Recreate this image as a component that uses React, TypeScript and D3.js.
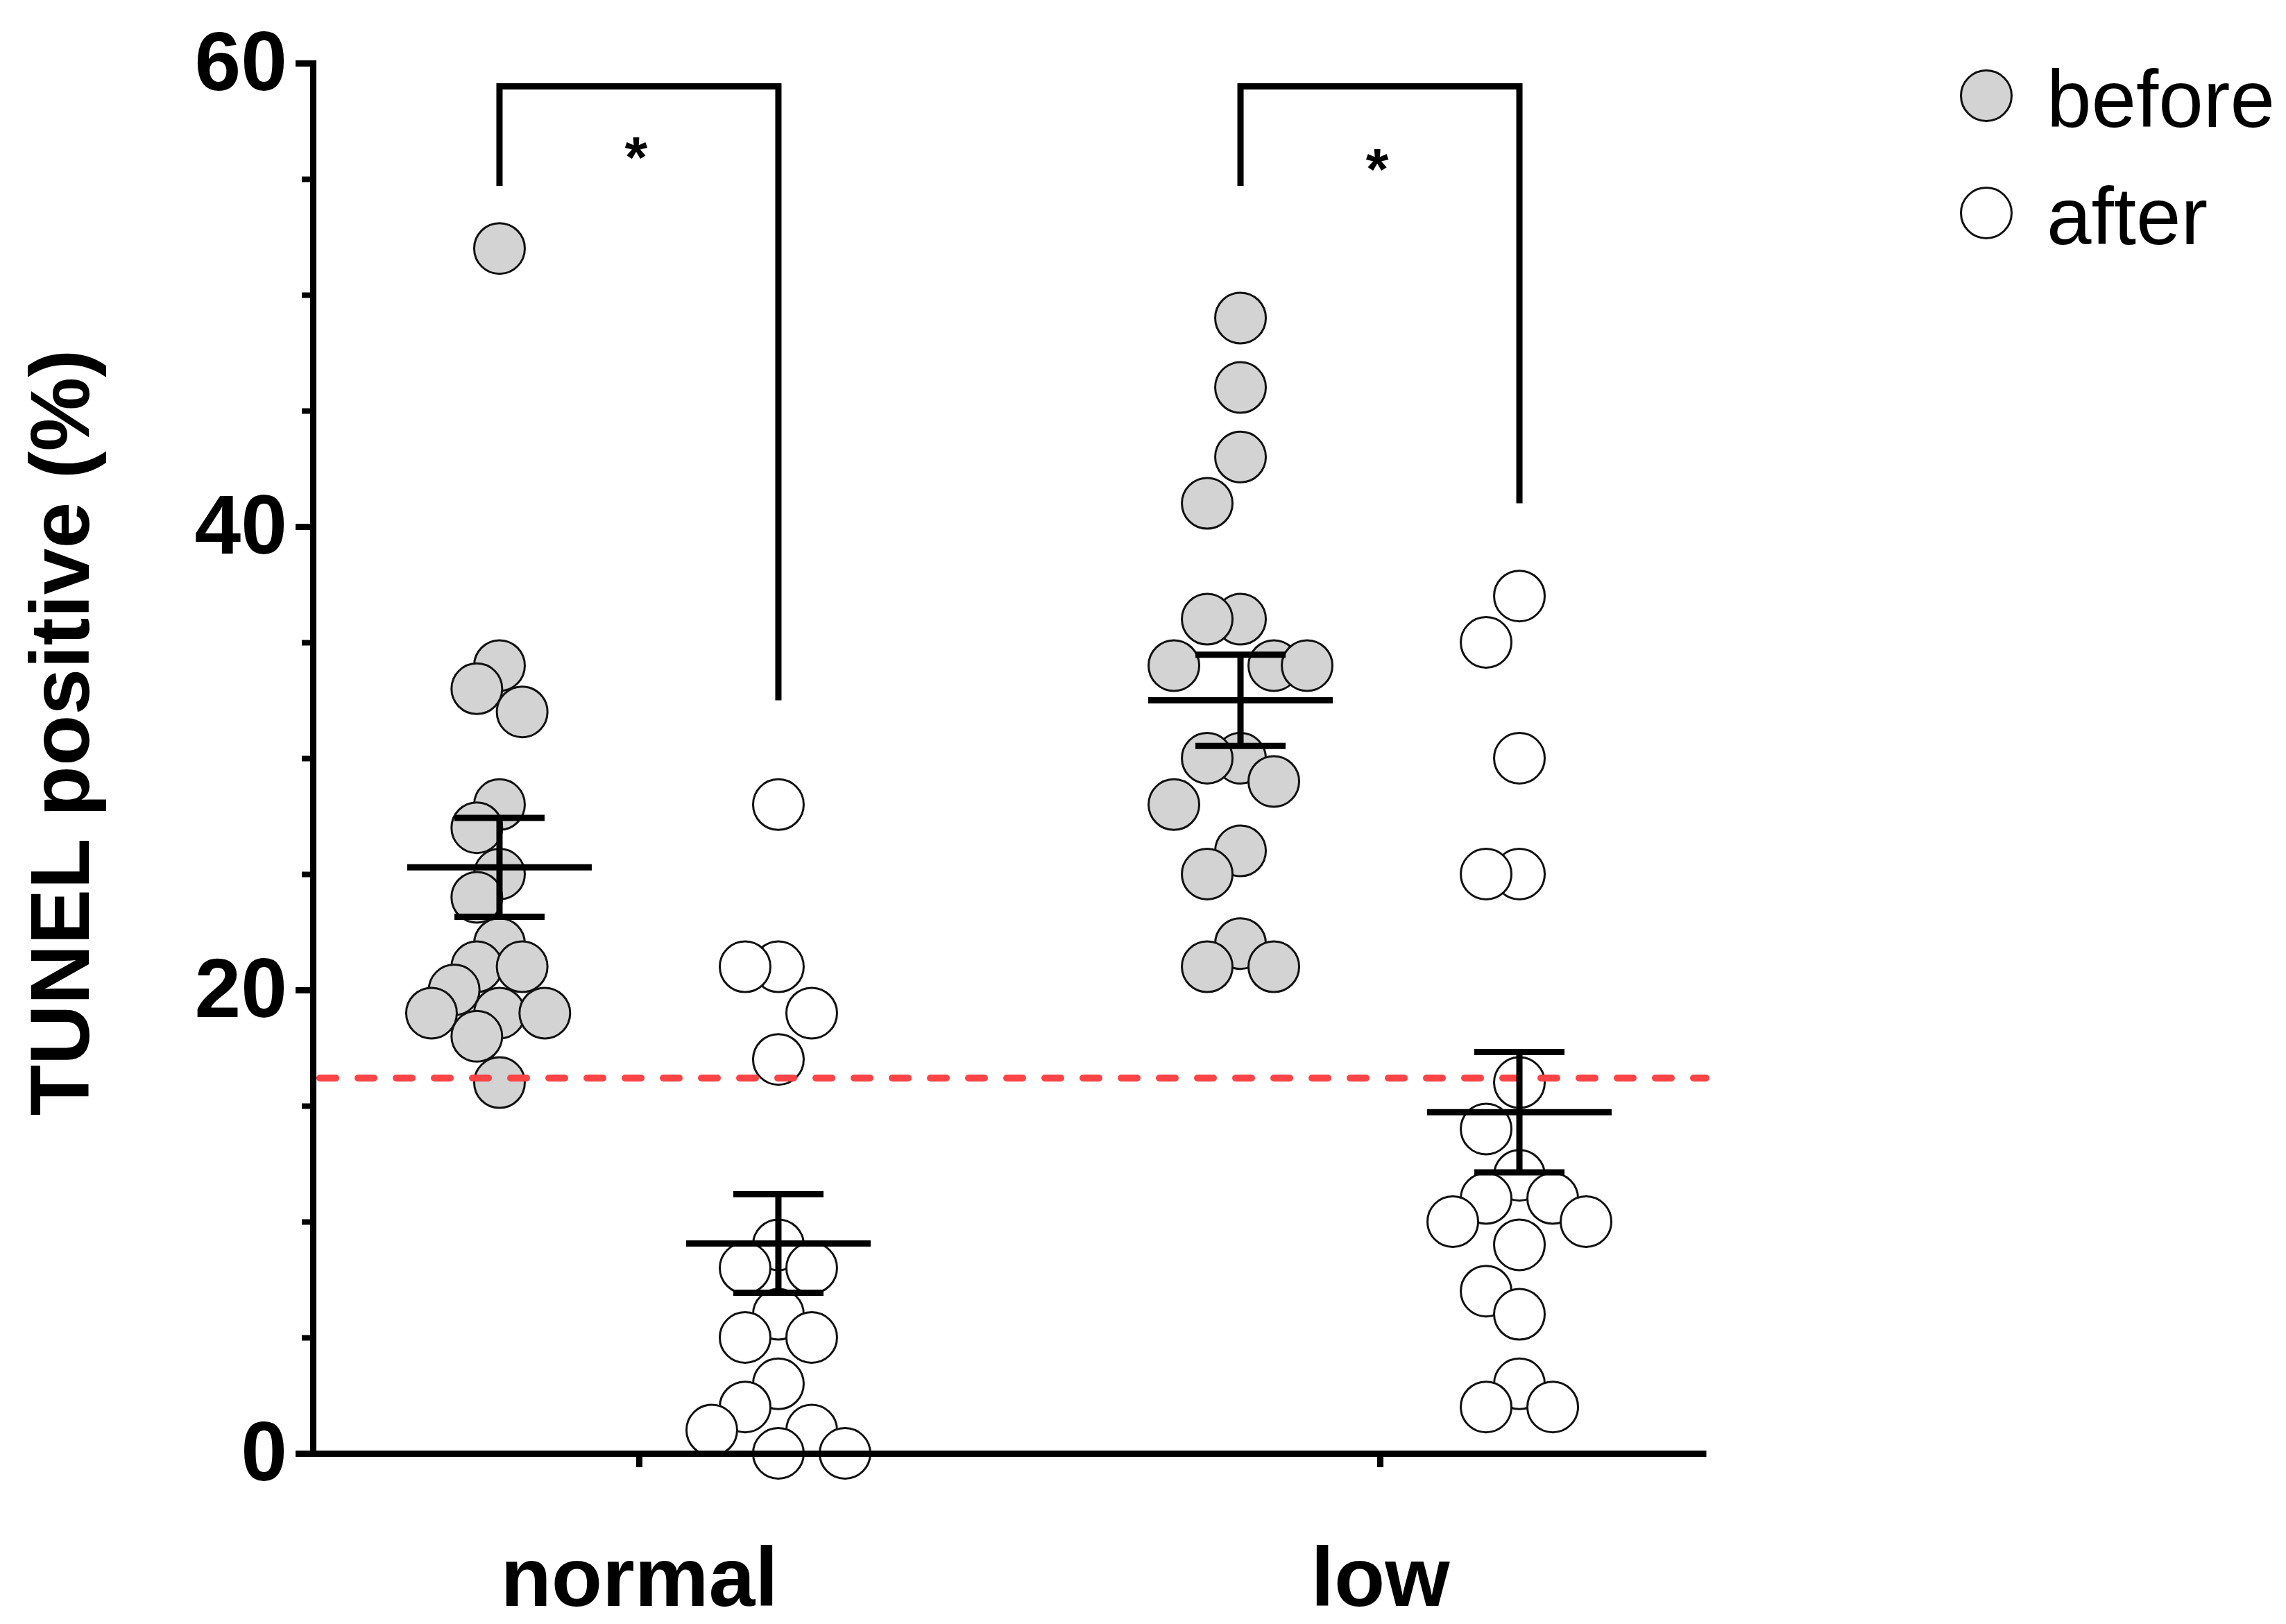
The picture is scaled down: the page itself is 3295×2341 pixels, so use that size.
import React, { useEffect, useRef } from 'react';
import * as d3 from 'd3';

// ---------- data ----------
const categories = ['normal', 'low'];
const conditions = ['before', 'after'];
const normalBefore = [52, 34, 33, 32, 28, 27, 25, 24, 22, 21, 21, 20, 19, 19, 19, 18, 16];
const normalAfter = [28, 21, 21, 19, 17, 9, 8, 8, 6, 5, 5, 3, 2, 1, 1, 0, 0];
const lowBefore = [49, 46, 43, 41, 36, 36, 34, 34, 34, 30, 30, 29, 28, 26, 25, 22, 21, 21];
const lowAfter = [37, 35, 30, 25, 25, 16, 14, 12, 11, 11, 10, 10, 9, 7, 6, 3, 2, 2];
const yTicks = [0, 20, 40, 60];
const yMinorTicks = [5, 10, 15, 25, 30, 35, 45, 50, 55];
const thresholdValue = 16.2;
const bracketCategories = ['normal', 'low'];
const bracketTop = [59, 59];
const bracketLeftEnd = [54.7, 54.7];
const bracketRightEnd = [32.5, 41];
const bracketLabels = ['*', '*'];
const bracketLabelValue = [56.5, 56.0];
const legendLabels = ['before', 'after'];
const yTitle = 'TUNEL positive (%)';

// ---------- styles ----------
const W = 3295;
const H = 2341;
const FONT = "Arial, 'Liberation Sans', Helvetica, sans-serif";
const fills: Record<string, string> = { before: '#d3d3d3', after: '#ffffff' };
const R = 36.5;

const y = d3.scaleLinear().domain([0, 60]).range([2095, 91]);
const x = d3.scalePoint<string>().domain(categories).range([451, 2459]).padding(0.44);
const sub = d3.scalePoint<string>().domain(conditions).range([-201, 201]);

const seriesValues: Record<string, number[]> = {
  'normal-before': normalBefore,
  'normal-after': normalAfter,
  'low-before': lowBefore,
  'low-after': lowAfter,
};

function swarm(values: number[], r: number, maxSlot: number, maxHalf: number) {
  const order = [...values].sort((a, b) => b - a);
  const minDy = 2 * r * 1.08;
  const cands: number[] = [0];
  for (let k = 1; k <= 20; k++) cands.push(-k / 2, k / 2);
  const placed: { v: number; s: number; py: number }[] = [];
  for (const v of order) {
    const py = y(v);
    const s =
      cands.find((c) => placed.every((q) => Math.abs(q.s - c) >= 1 || Math.abs(q.py - py) >= minDy)) ?? 0;
    placed.push({ v, s, py });
  }
  const maxS = d3.max(placed, (p) => Math.abs(p.s)) || 1;
  const slot = Math.min(maxSlot, maxHalf / maxS);
  return placed.map((p) => ({ value: p.v, dx: p.s * slot }));
}

export default function App() {
  const yAxisRef = useRef<SVGGElement>(null);
  const yMinorRef = useRef<SVGGElement>(null);
  const xAxisRef = useRef<SVGGElement>(null);

  useEffect(() => {
    const gy = d3.select(yAxisRef.current as SVGGElement);
    gy.selectAll('*').remove();
    gy.call(
      d3
        .axisLeft(y)
        .tickValues(yTicks)
        .tickSize(25)
        .tickSizeOuter(0)
        .tickPadding(12)
        .tickFormat(d3.format('d'))
    );
    gy.attr('font-size', 120).attr('font-family', FONT).attr('font-weight', 'bold');
    gy.select('.domain').attr('stroke', '#000').attr('stroke-width', 9).attr('stroke-linecap', 'square');
    gy.selectAll('.tick line').attr('stroke', '#000').attr('stroke-width', 9);
    gy.selectAll('.tick text').attr('fill', '#000');

    const gm = d3.select(yMinorRef.current as SVGGElement);
    gm.selectAll('*').remove();
    gm.call(d3.axisLeft(y).tickValues(yMinorTicks).tickSize(16).tickSizeOuter(0).tickFormat(() => ''));
    gm.select('.domain').remove();
    gm.selectAll('.tick line').attr('stroke', '#000').attr('stroke-width', 8);

    const gx = d3.select(xAxisRef.current as SVGGElement);
    gx.selectAll('*').remove();
    gx.call(d3.axisBottom(x).tickSize(20).tickSizeOuter(0).tickPadding(115));
    gx.attr('font-size', 120).attr('font-family', FONT).attr('font-weight', 'bold');
    gx.select('.domain').attr('stroke', '#000').attr('stroke-width', 9);
    gx.selectAll('.tick line').attr('stroke', '#000').attr('stroke-width', 9);
    gx.selectAll('.tick text').attr('fill', '#000');
  }, []);

  const groups = categories.flatMap((cat) =>
    conditions.map((cond) => {
      const values = seriesValues[`${cat}-${cond}`];
      const cx = (x(cat) as number) + (sub(cond) as number);
      const mean = d3.mean(values) as number;
      const sem = (d3.deviation(values) as number) / Math.sqrt(values.length);
      return { cat, cond, cx, mean, sem, pts: swarm(values, R, 48, 98) };
    })
  );

  const [x0, x1] = x.range();

  return (
    <svg width={W} height={H} style={{ position: 'absolute', left: 0, top: 0, background: '#fff' }}>
      <rect x={0} y={0} width={W} height={H} fill="#fff" />

      {/* points */}
      {groups.map((g) => (
        <g key={`${g.cat}-${g.cond}`}>
          {g.pts.map((p, i) => (
            <circle
              key={i}
              cx={g.cx + p.dx}
              cy={y(p.value)}
              r={R}
              fill={fills[g.cond]}
              stroke="#111"
              strokeWidth={3}
            />
          ))}
        </g>
      ))}

      {/* threshold line */}
      <line
        x1={x0 + 10}
        x2={x1}
        y1={y(thresholdValue)}
        y2={y(thresholdValue)}
        stroke="#fc4446"
        strokeWidth={10}
        strokeLinecap="round"
        strokeDasharray="23 32"
      />

      {/* mean ± SEM */}
      {groups.map((g) => (
        <g key={`eb-${g.cat}-${g.cond}`} stroke="#000" strokeWidth={9}>
          <line x1={g.cx - 133} x2={g.cx + 133} y1={y(g.mean)} y2={y(g.mean)} />
          <line x1={g.cx} x2={g.cx} y1={y(g.mean + g.sem)} y2={y(g.mean - g.sem)} />
          <line x1={g.cx - 65} x2={g.cx + 65} y1={y(g.mean + g.sem)} y2={y(g.mean + g.sem)} />
          <line x1={g.cx - 65} x2={g.cx + 65} y1={y(g.mean - g.sem)} y2={y(g.mean - g.sem)} />
        </g>
      ))}

      {/* axes */}
      <g ref={yMinorRef} transform="translate(451,0)" />
      <g ref={yAxisRef} transform="translate(451,0)" />
      <g ref={xAxisRef} transform={`translate(0,${y(0)})`} />

      {/* significance brackets */}
      {bracketCategories.map((cat, i) => {
        const xl = (x(cat) as number) + (sub('before') as number);
        const xr = (x(cat) as number) + (sub('after') as number);
        return (
          <g key={`br-${cat}`}>
            <path
              d={`M${xl},${y(bracketLeftEnd[i])}V${y(bracketTop[i])}H${xr}V${y(bracketRightEnd[i])}`}
              fill="none"
              stroke="#000"
              strokeWidth={9}
              strokeLinejoin="miter"
            />
            <text
              x={(xl + xr) / 2 - 4}
              y={y(bracketLabelValue[i]) + 48}
              textAnchor="middle"
              fontFamily={FONT}
              fontWeight="bold"
              fontSize={84}
              fill="#000"
            >
              {bracketLabels[i]}
            </text>
          </g>
        );
      })}

      {/* y title */}
      <text
        transform="translate(128,1056) rotate(-90)"
        textAnchor="middle"
        fontFamily={FONT}
        fontWeight="bold"
        fontSize={120}
        fill="#000"
      >
        {yTitle}
      </text>

      {/* legend */}
      {legendLabels.map((lab, i) => (
        <g key={lab} transform={`translate(2863,${138 + i * 169})`}>
          <circle cx={0} cy={0} r={R} fill={fills[conditions[i]]} stroke="#111" strokeWidth={3} />
          <text x={87} y={45} fontFamily={FONT} fontSize={116} fill="#000">
            {lab}
          </text>
        </g>
      ))}
    </svg>
  );
}
